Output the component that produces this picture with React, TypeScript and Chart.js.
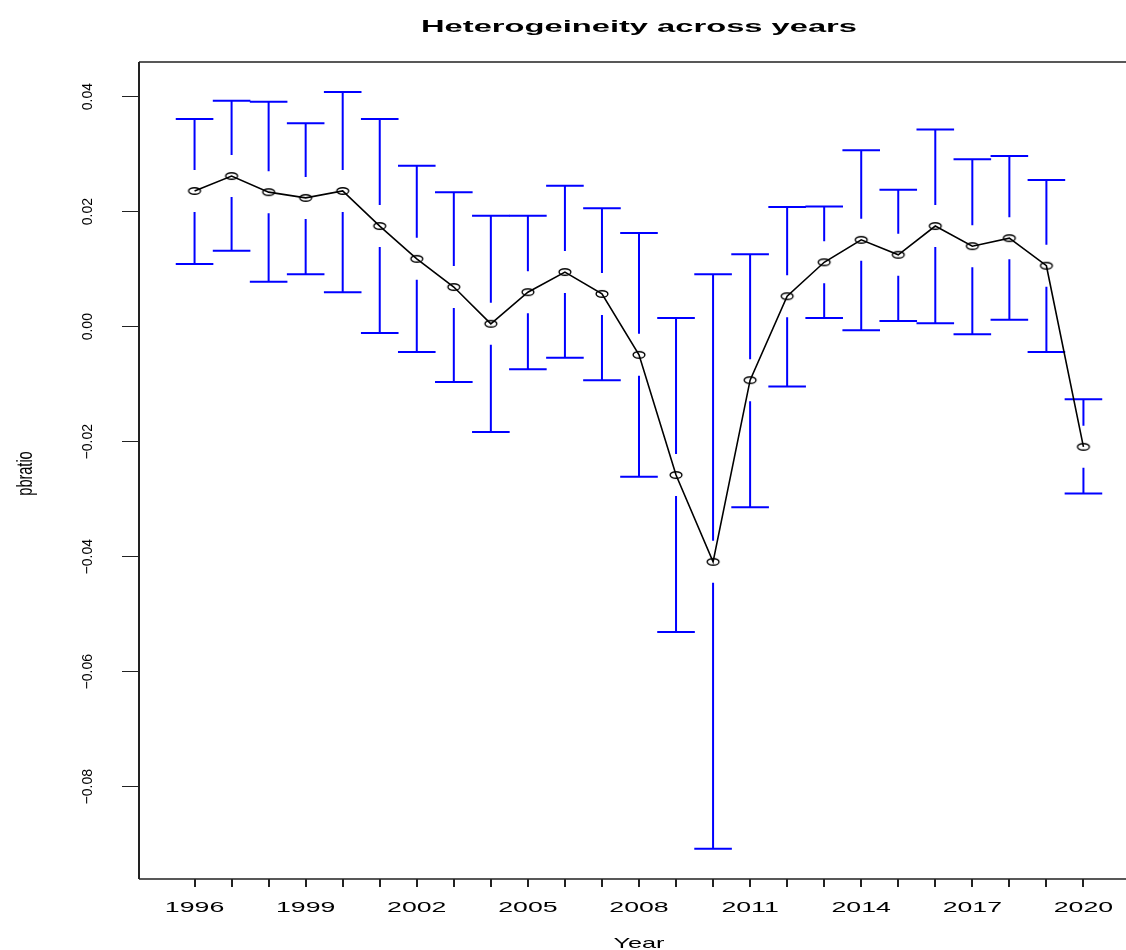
import React, { useEffect, useRef } from "react";
import { Chart, registerables } from "chart.js";

Chart.register(...registerables);

const years = [1996, 1997, 1998, 1999, 2000, 2001, 2002, 2003, 2004, 2005, 2006, 2007, 2008, 2009, 2010, 2011, 2012, 2013, 2014, 2015, 2016, 2017, 2018, 2019, 2020];
const means = [0.0236, 0.0262, 0.0234, 0.0224, 0.0236, 0.0175, 0.0118, 0.0069, 0.0005, 0.006, 0.0095, 0.0057, -0.0049, -0.0258, -0.0409, -0.0093, 0.0053, 0.0112, 0.0151, 0.0125, 0.0175, 0.014, 0.0154, 0.0106, -0.0209];
const upper = [0.0361, 0.0393, 0.0391, 0.0354, 0.0408, 0.0361, 0.028, 0.0234, 0.0193, 0.0193, 0.0245, 0.0206, 0.0163, 0.0015, 0.0091, 0.0126, 0.0208, 0.0209, 0.0307, 0.0238, 0.0343, 0.0291, 0.0297, 0.0255, -0.0126];
const lower = [0.0109, 0.0132, 0.0078, 0.0091, 0.006, -0.0011, -0.0044, -0.0096, -0.0183, -0.0074, -0.0054, -0.0093, -0.0261, -0.0531, -0.0908, -0.0314, -0.0104, 0.0015, -0.0006, 0.001, 0.0006, -0.0013, 0.0012, -0.0044, -0.029];
const yTicks = [-0.08, -0.06, -0.04, -0.02, 0, 0.02, 0.04];
const yTickLabels = ["\u22120.08", "\u22120.06", "\u22120.04", "\u22120.02", "0.00", "0.02", "0.04"];
const xLabelStep = 3;
const titleText = "Heterogeineity across years";
const xTitleText = "Year";
const yTitleText = "pbratio";

const FONT = '"Liberation Sans", Arial, sans-serif';

function makeEllipse(): HTMLCanvasElement {
  const c = document.createElement("canvas");
  c.width = 16;
  c.height = 10;
  const g = c.getContext("2d")!;
  g.strokeStyle = "#000";
  g.lineWidth = 1.4;
  g.beginPath();
  g.ellipse(8, 5, 5.9, 3.3, 0, 0, Math.PI * 2);
  g.stroke();
  return c;
}

export default function App() {
  const ref = useRef<HTMLCanvasElement | null>(null);

  useEffect(() => {
    const canvas = ref.current;
    if (!canvas) return;
    const ellipse = makeEllipse();

    const errorBars = {
      id: "errorBars",
      beforeDatasetsDraw(chart: any) {
        const ctx = chart.ctx;
        const xs = chart.scales.x;
        const ys = chart.scales.y;
        const gap = 21;
        const half = 18.8;
        ctx.save();
        ctx.strokeStyle = "#0000FF";
        ctx.lineWidth = 2;
        years.forEach((_, i) => {
          const x = xs.getPixelForValue(i);
          const yu = ys.getPixelForValue(upper[i]);
          const yl = ys.getPixelForValue(lower[i]);
          const ym = ys.getPixelForValue(means[i]);
          ctx.beginPath();
          ctx.moveTo(x, yu);
          ctx.lineTo(x, ym - gap);
          ctx.moveTo(x, ym + gap);
          ctx.lineTo(x, yl);
          ctx.moveTo(x - half, yu);
          ctx.lineTo(x + half, yu);
          ctx.moveTo(x - half, yl);
          ctx.lineTo(x + half, yl);
          ctx.stroke();
        });
        ctx.restore();
      },
    };

    const decorations = {
      id: "decorations",
      afterDraw(chart: any) {
        const ctx = chart.ctx;
        const xs = chart.scales.x;
        const ys = chart.scales.y;
        const a = chart.chartArea;
        ctx.save();
        // box
        ctx.strokeStyle = "#222";
        ctx.lineWidth = 2;
        ctx.beginPath();
        ctx.moveTo(a.left, a.top);
        ctx.lineTo(a.left, a.bottom);
        ctx.stroke();
        ctx.lineWidth = 1.3;
        ctx.beginPath();
        ctx.moveTo(a.left, a.top);
        ctx.lineTo(chart.width, a.top);
        ctx.moveTo(a.left, a.bottom);
        ctx.lineTo(chart.width, a.bottom);
        ctx.stroke();

        ctx.fillStyle = "#000";
        // title
        ctx.font = `bold 16.5px ${FONT}`;
        const tw = ctx.measureText(titleText).width;
        const midX = xs.getPixelForValue((years.length - 1) / 2);
        ctx.save();
        ctx.translate(midX, 31.7);
        ctx.scale(436 / tw, 1);
        ctx.textAlign = "center";
        ctx.textBaseline = "alphabetic";
        ctx.fillText(titleText, 0, 0);
        ctx.restore();

        // x tick labels
        ctx.font = `15px ${FONT}`;
        years.forEach((yr, i) => {
          if (i % xLabelStep !== 0) return;
          const x = xs.getPixelForValue(i);
          ctx.save();
          ctx.translate(x, 912.3);
          ctx.scale(1.78, 1);
          ctx.textAlign = "center";
          ctx.fillText(String(yr), 0, 0);
          ctx.restore();
        });

        // x title
        ctx.font = `15px ${FONT}`;
        const xw = ctx.measureText(xTitleText).width;
        ctx.save();
        ctx.translate(midX, 947.7);
        ctx.scale(51 / xw, 1);
        ctx.textAlign = "center";
        ctx.fillText(xTitleText, 0, 0);
        ctx.restore();

        // y tick labels
        ctx.font = `15.5px ${FONT}`;
        yTicks.forEach((v, i) => {
          const y = ys.getPixelForValue(v);
          ctx.save();
          ctx.translate(92, y);
          ctx.rotate(-Math.PI / 2);
          ctx.scale(0.9, 1);
          ctx.textAlign = "center";
          ctx.fillText(yTickLabels[i], 0, 0);
          ctx.restore();
        });

        // y title
        ctx.font = `22px ${FONT}`;
        ctx.save();
        ctx.translate(32, (a.top + a.bottom) / 2 + 3);
        ctx.rotate(-Math.PI / 2);
        ctx.scale(0.66, 1);
        ctx.textAlign = "center";
        ctx.fillText(yTitleText, 0, 0);
        ctx.restore();

        ctx.restore();
      },
    };

    const chart = new Chart(canvas, {
      type: "line",
      data: {
        datasets: [
          {
            data: years.map((_, i) => ({ x: i, y: means[i] })),
            borderColor: "#000",
            borderWidth: 1.6,
            pointStyle: ellipse as any,
            pointRadius: 6,
            showLine: true,
            tension: 0,
          },
        ],
      },
      options: {
        responsive: false,
        animation: false,
        devicePixelRatio: 1,
        layout: { padding: { top: 62, left: 0, right: 0, bottom: 0 } },
        plugins: {
          legend: { display: false },
          tooltip: { enabled: false },
          title: { display: false },
        },
        scales: {
          x: {
            type: "linear",
            min: -1.5,
            max: 25.16,
            afterBuildTicks: (s: any) => {
              s.ticks = years.map((_, i) => ({ value: i }));
            },
            afterFit: (s: any) => {
              s.height = 71;
            },
            ticks: { display: false },
            grid: { drawOnChartArea: false, drawTicks: true, tickLength: 8, color: "#222", lineWidth: 2 },
            border: { display: false },
          },
          y: {
            type: "linear",
            min: -0.09605,
            max: 0.04603,
            afterBuildTicks: (s: any) => {
              s.ticks = yTicks.map((v) => ({ value: v }));
            },
            afterFit: (s: any) => {
              s.width = 139;
            },
            ticks: { display: false },
            grid: { drawOnChartArea: false, drawTicks: true, tickLength: 17, color: "#222", lineWidth: 1 },
            border: { display: false },
          },
        },
      },
      plugins: [errorBars, decorations],
    });

    return () => chart.destroy();
  }, []);

  return (
    <div style={{ position: "absolute", left: 0, top: 0, width: 1126, height: 950, overflow: "hidden", background: "#fff" }}>
      <canvas ref={ref} width={1134} height={950} style={{ display: "block", width: 1134, height: 950 }} />
    </div>
  );
}
